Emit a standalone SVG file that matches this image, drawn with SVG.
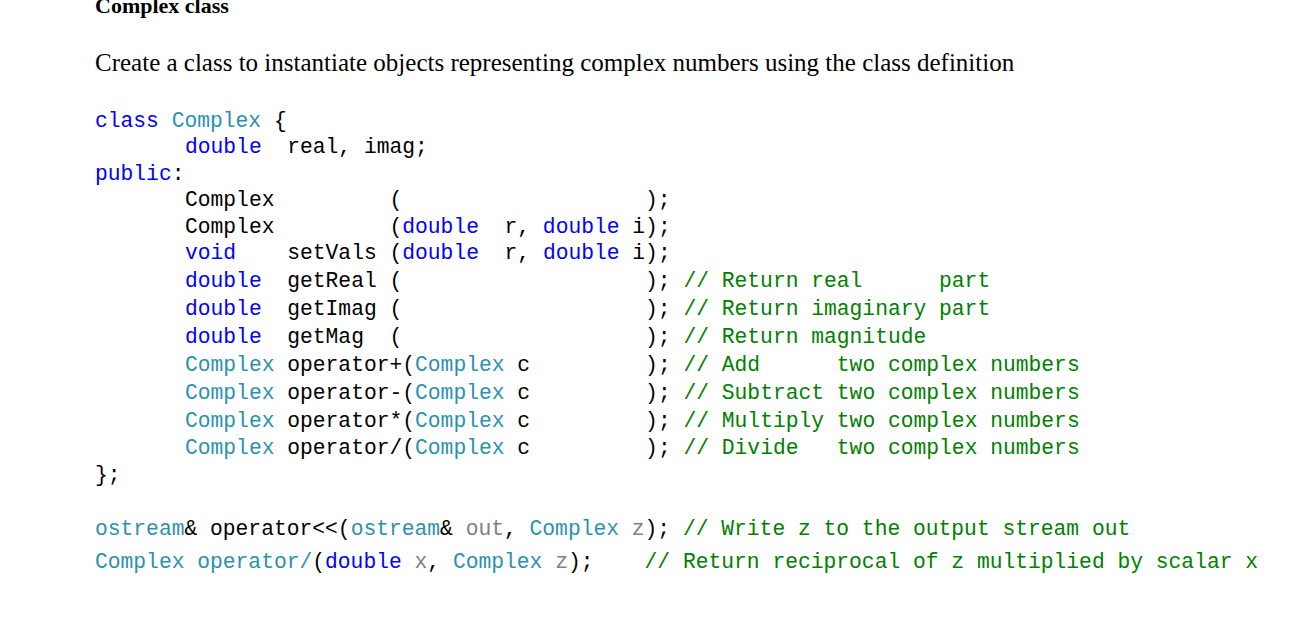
<svg xmlns="http://www.w3.org/2000/svg" width="1312" height="633" viewBox="0 0 1312 633">
<style>
.m{font-family:"Liberation Mono","DejaVu Sans Mono",monospace;font-size:21.3px;fill:#000;white-space:pre}
.k{fill:#0000ff}.t{fill:#2b91af}.c{fill:#008000}.g{fill:#808080}
.s{font-family:"Liberation Serif","Times New Roman",serif;fill:#000}
</style>
<rect width="1312" height="633" fill="#fff"/>
<text class="s" x="95" y="13" font-size="22" font-weight="bold">Complex class</text>
<text class="s" x="95" y="71" font-size="25">Create a class to instantiate objects representing complex numbers using the class definition</text>
<g xml:space="preserve">
<text class="m" x="95" y="127"><tspan class="k">class</tspan> <tspan class="t">Complex</tspan> {</text>
<text class="m" x="185" y="153"><tspan class="k">double</tspan>  real, imag;</text>
<text class="m" x="95" y="180"><tspan class="k">public</tspan>:</text>
<text class="m" x="185" y="206">Complex         (                   );</text>
<text class="m" x="185" y="233">Complex         (<tspan class="k">double</tspan>  r, <tspan class="k">double</tspan> i);</text>
<text class="m" x="185" y="259"><tspan class="k">void</tspan>    setVals (<tspan class="k">double</tspan>  r, <tspan class="k">double</tspan> i);</text>
<text class="m" x="185" y="287"><tspan class="k">double</tspan>  getReal (                   ); <tspan class="c">// Return real      part</tspan></text>
<text class="m" x="185" y="315"><tspan class="k">double</tspan>  getImag (                   ); <tspan class="c">// Return imaginary part</tspan></text>
<text class="m" x="185" y="343"><tspan class="k">double</tspan>  getMag  (                   ); <tspan class="c">// Return magnitude</tspan></text>
<text class="m" x="185" y="371"><tspan class="t">Complex</tspan> operator+(<tspan class="t">Complex</tspan> c         ); <tspan class="c">// Add      two complex numbers</tspan></text>
<text class="m" x="185" y="399"><tspan class="t">Complex</tspan> operator-(<tspan class="t">Complex</tspan> c         ); <tspan class="c">// Subtract two complex numbers</tspan></text>
<text class="m" x="185" y="427"><tspan class="t">Complex</tspan> operator*(<tspan class="t">Complex</tspan> c         ); <tspan class="c">// Multiply two complex numbers</tspan></text>
<text class="m" x="185" y="454"><tspan class="t">Complex</tspan> operator/(<tspan class="t">Complex</tspan> c         ); <tspan class="c">// Divide   two complex numbers</tspan></text>
<text class="m" x="95" y="481">};</text>
<text class="m" x="95" y="535"><tspan class="t">ostream</tspan>&amp; operator&lt;&lt;(<tspan class="t">ostream</tspan>&amp; <tspan class="g">out</tspan>, <tspan class="t">Complex</tspan> <tspan class="g">z</tspan>); <tspan class="c">// Write z to the output stream out</tspan></text>
<text class="m" x="95" y="568"><tspan class="t">Complex</tspan> <tspan class="t">operator/</tspan>(<tspan class="k">double</tspan> <tspan class="g">x</tspan>, <tspan class="t">Complex</tspan> <tspan class="g">z</tspan>);    <tspan class="c">// Return reciprocal of z multiplied by scalar x</tspan></text>
</g>
</svg>
